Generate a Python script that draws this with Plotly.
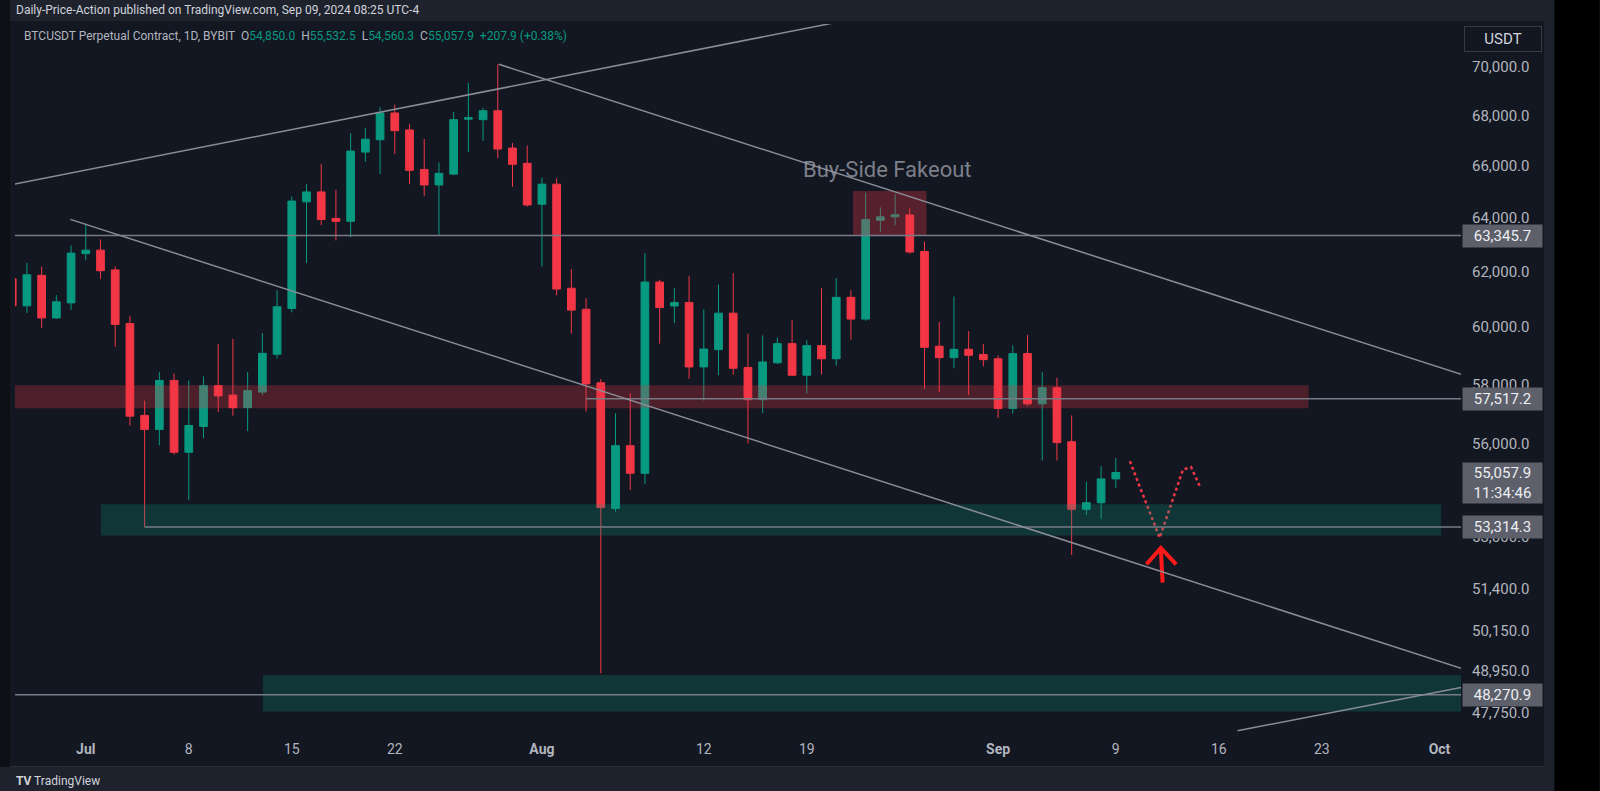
import math
import pandas as pd
import plotly.graph_objects as go

# ---------------- data ----------------
dates = pd.date_range("2024-06-26", "2024-09-09", freq="D")

opens = [61745, 60764, 61870, 60330, 60870,
         62670, 62800, 62070, 60130, 56950, 56480, 58140, 55720, 56580, 57960,
         57640, 57210, 57740, 59050, 60670, 64620, 65000, 63990, 63880, 66550,
         67040, 68110, 67430, 65870, 65270, 65690, 67860, 67840, 68200, 66710, 66110,
         64530, 65300, 61400, 60640, 58060, 53900, 55939, 55032, 61625, 60760,
         60880, 58607, 59210, 60500, 58590, 57480, 58750, 59420, 58320, 59350,
         58890, 61070, 60290, 63920, 64050, 64120, 62750, 59330, 58930, 59220, 59040,
         58890, 57180, 59070, 57340, 57890, 56070, 53872, 54082, 54850]
highs = [61900, 62333, 62190, 61150, 62970,
         63800, 63200, 62200, 60410, 57450, 58430, 58380, 58140, 58280, 59400,
         59590, 58430, 59790, 61330, 64820, 65300, 66080, 65080, 67300, 67520,
         68340, 68450, 67670, 67070, 66150, 68150, 69330, 68310, 70100, 66910, 66810,
         65550, 65530, 62100, 61040, 58190, 57018, 57699, 62690, 61710, 61400,
         61850, 60640, 61530, 61950, 59770, 59710, 59630, 60250, 59540, 61400,
         61770, 61330, 64970, 64410, 64920, 64370, 63120, 60190, 61100, 59860, 59400,
         59010, 59360, 59730, 58430, 58230, 56950, 54759, 55270, 55532.5]
lows = [60600, 60509, 59980, 60300, 60620,
        62420, 61740, 59310, 56610, 53314.3, 55950, 55640, 54160, 56190, 57060,
        56940, 56420, 57640, 58900, 60530, 62320, 63730, 63160, 63280, 66170,
        65690, 66480, 65300, 64850, 63345.7, 65650, 66550, 67000, 66310, 65200, 64440,
        62190, 61140, 59770, 57080, 48889, 53800, 54491, 54685, 59420, 60150,
        58200, 57450, 58320, 58340, 56010, 57030, 58710, 58300, 57690, 58350,
        58650, 59560, 60230, 63480, 63730, 62670, 57850, 57740, 58560, 57640, 58630,
        56860, 57010, 57270, 55450, 55450, 52434, 53692, 53556, 54560.3]
closes = [60764, 61890, 60330, 60910, 62690,
          62800, 62040, 60100, 56925, 56480, 58140, 55720, 56610, 57960, 57610,
          57210, 57790, 59080, 60730, 64650, 65000, 63950, 63880, 66590, 67060,
          68110, 67400, 65835, 65270, 65720, 67840, 67920, 68200, 66670, 66070, 64500,
          65300, 61370, 60610, 58020, 53925, 55939, 55032, 61625, 60700, 60880,
          58607, 59230, 60500, 58560, 57480, 58780, 59420, 58320, 59350, 58890,
          61070, 60290, 63950, 64050, 64130, 62730, 59290, 58930, 59220, 59010, 58860,
          57180, 59070, 57340, 57890, 56040, 53872, 54082, 54850, 55057.9]

# axis ticks
x_tick_dates = ["2024-07-01", "2024-07-08", "2024-07-15", "2024-07-22", "2024-08-01", "2024-08-12",
                "2024-08-19", "2024-09-01", "2024-09-09", "2024-09-16", "2024-09-23", "2024-10-01"]
x_tick_text = ["<b>Jul</b>", "8", "15", "22", "<b>Aug</b>", "12", "19", "<b>Sep</b>", "9", "16", "23", "<b>Oct</b>"]
y_tick_vals = [70000, 68000, 66000, 64000, 62000, 60000, 58000, 56000, 53000, 51400, 50150, 48950, 47750]

# drawing levels (price)
h_levels = [63345.7, 57517.2, 53314.3, 48270.9]
h_level_start_day = [-6, 34, 4, -6]          # day offsets from Jul 1
price_labels = [63345.7, 57517.2, 53314.3, 48270.9]

# trend lines: (day offset, price) pairs
trend_days = [[-5.5, 51.7], [28.07, 94.0], [-1.05, 94.0], [78.27, 94.0]]
trend_prices = [[65229, 71944], [70100, 58265], [63953, 48960], [47257, 48522]]

# zones: day0, day1, price_low, price_high
zone_days = [[-6, 83.1], [1.03, 92.1], [12.04, 96.0], [52.14, 57.13]]
zone_prices = [[57189, 57973], [53043, 54032], [47797, 48838], [63346, 65036]]
zone_colors = ["rgba(242,54,69,0.26)", "rgba(8,153,129,0.24)", "rgba(8,153,129,0.24)", "rgba(242,54,69,0.30)"]

# projection path and arrow
proj_days = [70.96, 72.98, 74.57, 75.12, 75.76]
proj_prices = [55425, 52971, 55159, 55228, 54565]
arrow_days = [72.09, 73.06, 74.10, None, 73.06, 73.18]
arrow_prices = [52147, 52653, 52147, None, 52653, 51582]

BASE = pd.Timestamp("2024-07-01")


def day(d):
    if d is None:
        return None
    return (BASE + pd.to_timedelta(d, unit="D")).strftime("%Y-%m-%d %H:%M:%S")


# ---------------- geometry of the figure ----------------
W, H = 1600, 791
L, R, T, B = 15, 1461.5, 24, 733


def px(x):
    return (x - L) / (R - L)


def py(y):
    return (B - y) / (B - T)


x_range = [day(-4.81), day(93.46)]
y_range = [math.log10(47193), math.log10(71791)]

PANE = "#131722"
FRAME = "#1e222d"
LINE_GRAY = "#8a8d96"

fig = go.Figure()
fig.add_trace(go.Candlestick(
    x=dates, open=opens, high=highs, low=lows, close=closes,
    increasing=dict(line=dict(color="#089981", width=1), fillcolor="#089981"),
    decreasing=dict(line=dict(color="#f23645", width=1), fillcolor="#f23645"),
    whiskerwidth=0, showlegend=False, hoverinfo="skip",
))

# projection path (dotted)
fig.add_trace(go.Scatter(
    x=[day(d) for d in proj_days], y=proj_prices, mode="lines",
    line=dict(color="#f23645", width=2.5, dash="dot"), showlegend=False, hoverinfo="skip",
))
# arrow
fig.add_trace(go.Scatter(
    x=[day(d) for d in arrow_days], y=arrow_prices, mode="lines",
    line=dict(color="#ff1a1a", width=4), showlegend=False, hoverinfo="skip", connectgaps=False,
))

shapes = []
# zones
for (d0, d1), (p0, p1), col in zip(zone_days, zone_prices, zone_colors):
    shapes.append(dict(type="rect", xref="x", yref="y", x0=day(d0), x1=day(d1), y0=p0, y1=p1,
                       fillcolor=col, line=dict(width=0), layer="above"))
# horizontal levels
for lvl, d0 in zip(h_levels, h_level_start_day):
    shapes.append(dict(type="line", xref="x", yref="y", x0=day(d0), x1=day(96), y0=lvl, y1=lvl,
                       line=dict(color="#787b86", width=1.5), layer="above"))
# trend lines
for ds, ps in zip(trend_days, trend_prices):
    shapes.append(dict(type="line", xref="x", yref="y", x0=day(ds[0]), x1=day(ds[1]), y0=ps[0], y1=ps[1],
                       line=dict(color=LINE_GRAY, width=1.5), layer="above"))

# frame pieces (pixel based)
def prect(x0, y0, x1, y1, color, line=None):
    d = dict(type="rect", xref="paper", yref="paper", x0=px(x0), x1=px(x1), y0=py(y1), y1=py(y0),
             fillcolor=color, line=dict(width=0) if line is None else line, layer="below")
    shapes.append(d)

prect(0, 0, 1555, 21, FRAME)           # header bar
prect(0, 0, 10, 791, "#0e1016")        # left strip
prect(0, 767, 1555, 791, FRAME)        # footer
prect(1546, 21, 1555, 791, FRAME)      # right frame edge
prect(1555, 0, 1600, 791, "#000000")   # black right area
shapes.append(dict(type="line", xref="paper", yref="paper", x0=px(10), x1=px(1546), y0=py(766.5), y1=py(766.5),
                   line=dict(color="#2a2e39", width=1)))
shapes.append(dict(type="line", xref="paper", yref="paper", x0=px(1545.5), x1=px(1545.5), y0=py(21), y1=py(767),
                   line=dict(color="#2a2e39", width=1)))

annotations = []
# price labels on the axis
for v in price_labels:
    annotations.append(dict(xref="paper", yref="y", x=1, y=math.log10(v), xanchor="left", yanchor="middle",
                            xshift=1, text=f"{v:,.1f}", showarrow=False, bgcolor="#5d606b",
                            font=dict(family="Roboto", size=15, color="#eceef2"),
                            width=75, height=18, borderpad=2, align="center"))
annotations.append(dict(xref="paper", yref="y", x=1, y=math.log10(closes[-1]), xanchor="left", yanchor="top",
                        xshift=1, yshift=11, text=f"{closes[-1]:,.1f}<br>11:34:46", showarrow=False,
                        bgcolor="#5d606b", font=dict(family="Roboto", size=15, color="#eceef2"),
                        width=75, height=36, borderpad=2, align="center"))
# USDT box
annotations.append(dict(xref="paper", yref="paper", x=px(1503.5), y=py(39), xanchor="center", yanchor="middle",
                        text="USDT", showarrow=False, font=dict(family="Roboto", size=15, color="#d1d4dc"),
                        bordercolor="#363a45", borderwidth=1, width=72, height=20, borderpad=2))
# header
annotations.append(dict(xref="paper", yref="paper", x=px(14), y=py(10.5), xanchor="left", yanchor="middle",
                        text="Daily-Price-Action published on TradingView.com, Sep 09, 2024 08:25 UTC-4",
                        showarrow=False, font=dict(family="Roboto", size=12, color="#d1d4dc")))
# legend line
g = "#089981"
legend = (f"BTCUSDT Perpetual Contract, 1D, BYBIT  O<span style='color:{g}'>{opens[-1]:,.1f}</span>  "
          f"H<span style='color:{g}'>{highs[-1]:,.1f}</span>  L<span style='color:{g}'>{lows[-1]:,.1f}</span>  "
          f"C<span style='color:{g}'>{closes[-1]:,.1f}</span>  "
          f"<span style='color:{g}'>+{closes[-1]-closes[-2]:,.1f} (+{(closes[-1]-closes[-2])/closes[-2]*100:.2f}%)</span>")
annotations.append(dict(xref="paper", yref="paper", x=px(22), y=py(36), xanchor="left", yanchor="middle",
                        text=legend, showarrow=False, font=dict(family="Roboto", size=12, color="#b2b5be")))
# Buy-Side Fakeout
annotations.append(dict(xref="x", yref="y", x=day(54.5), y=math.log10(65869), xanchor="center", yanchor="middle",
                        text="Buy-Side Fakeout", showarrow=False,
                        font=dict(family="Roboto", size=22, color="rgba(160,163,172,0.75)")))
# footer
annotations.append(dict(xref="paper", yref="paper", x=px(14), y=py(781), xanchor="left", yanchor="middle",
                        text="<b>TV</b> TradingView", showarrow=False,
                        font=dict(family="Roboto", size=12, color="#d1d4dc")))

fig.update_layout(
    width=W, height=H, autosize=False,
    margin=dict(l=L, r=W - R, t=T, b=H - B, pad=0),
    paper_bgcolor=PANE, plot_bgcolor=PANE,
    shapes=shapes, annotations=annotations,
    showlegend=False, boxgap=0.25,
    xaxis=dict(type="date", range=x_range, rangeslider=dict(visible=False), showgrid=False, zeroline=False,
               tickvals=x_tick_dates, ticktext=x_tick_text, ticks="", showline=False,
               tickfont=dict(family="Roboto", size=14, color="#b2b5be"), ticklabelstandoff=6),
    yaxis=dict(type="log", range=y_range, side="right", showgrid=False, zeroline=False,
               tickvals=y_tick_vals, ticktext=[f"{v:,.1f}" for v in y_tick_vals], ticks="", showline=False,
               tickfont=dict(family="Roboto", size=15, color="#b2b5be"), ticklabelstandoff=10),
)

fig.write_html("out.html")
